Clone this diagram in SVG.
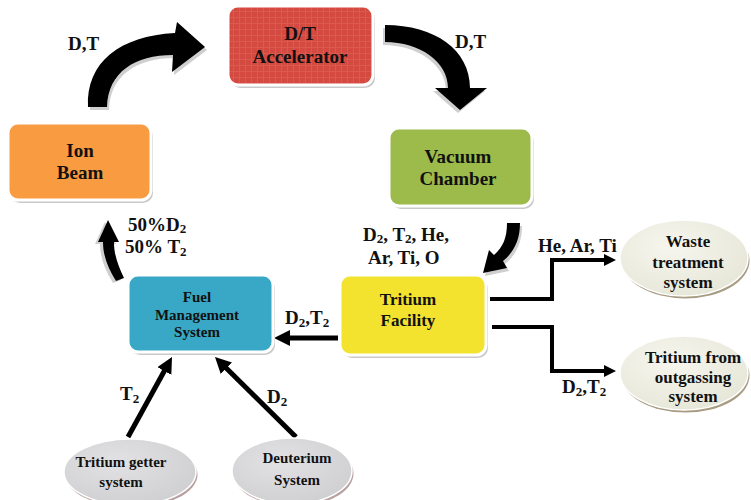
<svg xmlns="http://www.w3.org/2000/svg" width="751" height="500" viewBox="0 0 751 500">
<style>
text{font-family:"Liberation Serif","Times New Roman",serif;font-weight:bold;fill:#111}
.bt{font-size:19px;text-anchor:middle}
.ft{font-size:17px;text-anchor:middle}
.st{font-size:15px;text-anchor:middle}
.lb{font-size:19px}
.sub{font-size:13px}
.box{stroke:#fff;stroke-width:3}
.shd{fill:#c9c9c9}
.blk{fill:#000}
.bsh{fill:#cfcfcf}
.ln{fill:none;stroke:#000;stroke-width:5}
.ln2{fill:none;stroke:#000;stroke-width:4}
</style>
<defs>
<marker id="ah" markerUnits="userSpaceOnUse" markerWidth="16" markerHeight="16" refX="6" refY="8" orient="auto">
<path d="M0,0 L16,8 L0,16 Z" fill="#000"/>
</marker>
<marker id="ah2" markerUnits="userSpaceOnUse" markerWidth="12" markerHeight="12" refX="4" refY="6" orient="auto">
<path d="M0,0 L12,6 L0,12 Z" fill="#000"/>
</marker>
<pattern id="tex" width="6" height="6" patternUnits="userSpaceOnUse">
<rect width="6" height="6" fill="#D54A40"/>
<path d="M0,5.5 H6 M5.5,0 V6" stroke="#e06a60" stroke-width="1" opacity="0.5"/>
</pattern>
<radialGradient id="cream" cx="0.4" cy="0.35" r="0.7">
<stop offset="0" stop-color="#f6f6ee"/>
<stop offset="1" stop-color="#e6e6d8"/>
</radialGradient>
<radialGradient id="grey" cx="0.4" cy="0.35" r="0.7">
<stop offset="0" stop-color="#e2e2e4"/>
<stop offset="1" stop-color="#cfcfd2"/>
</radialGradient>
</defs>
<rect width="751" height="500" fill="#fff"/>

<g id="connectors">
<path class="bsh" transform="translate(2,3)" d="M88,107 C86,62 120,36 175,33 L177,22 L205,47 L172,72 L173,55 C135,55 108,72 107,107 Z"/>
<path class="blk" d="M88,107 C86,62 120,36 175,33 L177,22 L205,47 L172,72 L173,55 C135,55 108,72 107,107 Z"/>
<path class="bsh" transform="translate(-2,3)" d="M385,25 C435,25 470,50 470,88 L487,88 L460,110 L435,88 L448,88 C448,62 420,42 385,42 Z"/>
<path class="blk" d="M385,25 C435,25 470,50 470,88 L487,88 L460,110 L435,88 L448,88 C448,62 420,42 385,42 Z"/>
<path class="bsh" transform="translate(2,3)" d="M507,223 L520,223 C520,240 514,252 503,261 L507,268 L483,273 L489,250 L494,255 C503,247 507,238 507,223 Z"/>
<path class="blk" d="M507,223 L520,223 C520,240 514,252 503,261 L507,268 L483,273 L489,250 L494,255 C503,247 507,238 507,223 Z"/>
<path class="bsh" transform="translate(-3,2)" d="M103,242 L98,242 L108,220 L119,242 L114,242 C114,255 118,265 124,278 L116,281 C108,268 103,256 103,242 Z"/>
<path class="blk" d="M103,242 L98,242 L108,220 L119,242 L114,242 C114,255 118,265 124,278 L116,281 C108,268 103,256 103,242 Z"/>
<line class="ln" x1="338" y1="338" x2="284" y2="338" marker-end="url(#ah)"/>
<line class="ln" x1="128" y1="437" x2="167.2" y2="365.8" marker-end="url(#ah)"/>
<line class="ln" x1="296" y1="437" x2="222.1" y2="364" marker-end="url(#ah)"/>
<polyline class="ln2" points="490,299 552,299 552,260 608,260" marker-end="url(#ah2)"/>
<polyline class="ln2" points="492,327 552,327 552,371 608,371" marker-end="url(#ah2)"/>
<text class="lb" x="68" y="50">D,T</text>
<text class="lb" x="455" y="48">D,T</text>
<text class="lb" x="363" y="241">D<tspan class="sub" dy="2">2</tspan><tspan dy="-2">, T</tspan><tspan class="sub" dy="2">2</tspan><tspan dy="-2">, He,</tspan></text>
<text class="lb" x="368" y="264">Ar, Ti, O</text>
<text class="lb" x="538" y="252">He, Ar, Ti</text>
<text class="lb" x="562" y="393">D<tspan class="sub" dy="3">2</tspan><tspan dy="-3">,T</tspan><tspan class="sub" dy="3">2</tspan></text>
<text class="lb" x="285" y="324">D<tspan class="sub" dy="3">2</tspan><tspan dy="-3">,T</tspan><tspan class="sub" dy="3">2</tspan></text>
<text class="lb" x="128" y="231">50%D<tspan class="sub" dy="2">2</tspan></text>
<text class="lb" x="125" y="253">50% T<tspan class="sub" dy="3">2</tspan></text>
<text class="lb" x="120" y="400">T<tspan class="sub" dy="3">2</tspan></text>
<text class="lb" x="267" y="403">D<tspan class="sub" dy="3">2</tspan></text>
</g>

<g id="accelerator">
<rect class="shd" x="230" y="9" width="145" height="79" rx="10"/>
<rect class="box" x="228" y="6" width="145" height="79" rx="10" fill="url(#tex)"/>
<text class="bt" x="300" y="40">D/T</text>
<text class="bt" x="300" y="63">Accelerator</text>
</g>

<g id="ion-beam">
<rect class="shd" x="10" y="126" width="143" height="77" rx="10"/>
<rect class="box" x="8" y="123" width="143" height="77" rx="10" fill="#F99B41"/>
<text class="bt" x="80" y="157">Ion</text>
<text class="bt" x="80" y="179">Beam</text>
</g>

<g id="vacuum-chamber">
<rect class="shd" x="391" y="131" width="143" height="78" rx="10"/>
<rect class="box" x="389" y="128" width="143" height="78" rx="10" fill="#9DBB4B"/>
<text class="bt" x="458" y="163">Vacuum</text>
<text class="bt" x="458" y="185">Chamber</text>
</g>

<g id="tritium-facility">
<rect class="shd" x="342" y="278" width="146" height="80" rx="10"/>
<rect class="box" x="340" y="275" width="146" height="80" rx="10" fill="#F3E22E"/>
<text class="ft" x="408" y="305">Tritium</text>
<text class="ft" x="408" y="326">Facility</text>
</g>

<g id="fuel-management">
<rect class="shd" x="130" y="278" width="145" height="77" rx="10"/>
<rect class="box" x="128" y="275" width="145" height="77" rx="10" fill="#38A8C6"/>
<text class="st" x="197" y="302">Fuel</text>
<text class="st" x="197" y="320">Management</text>
<text class="st" x="197" y="337">System</text>
</g>

<g id="waste-treatment">
<ellipse cx="685.5" cy="260.5" rx="64" ry="38" fill="#8a7a58" opacity="0.75"/>
<ellipse cx="684" cy="258" rx="64" ry="38" fill="url(#cream)" stroke="#fff" stroke-width="1.5"/>
<text class="ft" x="688" y="247">Waste</text>
<text class="ft" x="688" y="268">treatment</text>
<text class="ft" x="688" y="288">system</text>
</g>

<g id="tritium-outgassing">
<ellipse cx="685.5" cy="375.5" rx="64" ry="37" fill="#8a7a58" opacity="0.75"/>
<ellipse cx="684" cy="373" rx="64" ry="37" fill="url(#cream)" stroke="#fff" stroke-width="1.5"/>
<text class="ft" x="693" y="363">Tritium from</text>
<text class="ft" x="693" y="383">outgassing</text>
<text class="ft" x="693" y="402">system</text>
</g>

<g id="tritium-getter">
<ellipse cx="131.5" cy="474.5" rx="66" ry="33" fill="#a08080" opacity="0.75"/>
<ellipse cx="130" cy="472" rx="66" ry="33" fill="url(#grey)" stroke="#fff" stroke-width="1.5"/>
<text class="st" x="121" y="467">Tritium getter</text>
<text class="st" x="121" y="487">system</text>
</g>

<g id="deuterium-system">
<ellipse cx="293.5" cy="473.5" rx="60" ry="33" fill="#a08080" opacity="0.75"/>
<ellipse cx="292" cy="471" rx="60" ry="33" fill="url(#grey)" stroke="#fff" stroke-width="1.5"/>
<text class="st" x="297" y="463">Deuterium</text>
<text class="st" x="297" y="485">System</text>
</g>
</svg>
